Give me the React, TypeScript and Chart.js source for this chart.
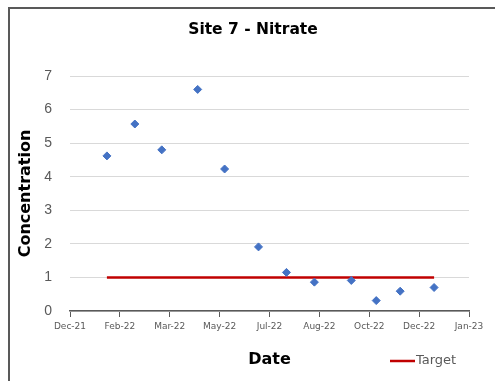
import React, { useEffect, useRef } from 'react';
import { Chart, registerables } from 'chart.js';

Chart.register(...registerables);

// ---- Data ----
const sampleDates = [
  '2022-01-26', '2022-02-23', '2022-03-22', '2022-04-27', '2022-05-24', '2022-06-27',
  '2022-07-25', '2022-08-22', '2022-09-28', '2022-10-23', '2022-11-16', '2022-12-20',
];
const nitrateValues = [4.62, 5.57, 4.8, 6.6, 4.23, 1.91, 1.15, 0.86, 0.91, 0.31, 0.59, 0.7];
const targetDates = ['2022-01-26', '2022-12-20'];
const targetValues = [1, 1];

// Excel-style date serial axis bounds
const xMin = 44550; // Dec-21
const xMax = 44950; // Jan-23
const xStep = 50;
const yMin = 0;
const yMax = 7;
const yStep = 1;

const MONTHS = ['Jan', 'Feb', 'Mar', 'Apr', 'May', 'Jun', 'Jul', 'Aug', 'Sep', 'Oct', 'Nov', 'Dec'];

function toSerial(s: string): number {
  const [y, m, d] = s.split('-').map(Number);
  return Date.UTC(y, m - 1, d) / 86400000 + 25569;
}
function fmtSerial(serial: number): string {
  const dt = new Date((serial - 25569) * 86400000);
  return MONTHS[dt.getUTCMonth()] + '-' + String(dt.getUTCFullYear() % 100).padStart(2, '0');
}

const framePlugin = {
  id: 'frame',
  afterDraw(chart: any) {
    const ctx = chart.ctx;
    ctx.save();
    ctx.fillStyle = '#595959';
    ctx.fillRect(8, 7, chart.width - 8, 2);
    ctx.fillRect(8, 7, 2, chart.height - 7);
    ctx.restore();
  },
};

const sideLegendPlugin = {
  id: 'sideLegend',
  afterDraw(chart: any) {
    const ds = chart.data.datasets.find((d: any) => d.label === 'Target');
    if (!ds) return;
    const ctx = chart.ctx;
    const area = chart.chartArea;
    const y = chart.height - 20;
    const x0 = area.right - 79;
    ctx.save();
    ctx.strokeStyle = ds.borderColor;
    ctx.lineWidth = 2.5;
    ctx.beginPath();
    ctx.moveTo(x0, y);
    ctx.lineTo(x0 + 25, y);
    ctx.stroke();
    ctx.fillStyle = '#595959';
    ctx.font = '13px "DejaVu Sans"';
    ctx.textBaseline = 'middle';
    ctx.textAlign = 'left';
    ctx.fillText(ds.label, x0 + 26, y);
    ctx.restore();
  },
};

export default function App() {
  const ref = useRef<HTMLCanvasElement | null>(null);

  useEffect(() => {
    if (!ref.current) return;
    const nitrate = sampleDates.map((d, i) => ({ x: toSerial(d), y: nitrateValues[i] }));
    const target = targetDates.map((d, i) => ({ x: toSerial(d), y: targetValues[i] }));

    const chart = new Chart(ref.current, {
      type: 'scatter',
      data: {
        datasets: [
          {
            label: 'Nitrate',
            data: nitrate,
            pointStyle: 'rectRot',
            pointRadius: 4,
            pointHoverRadius: 4,
            backgroundColor: '#4472C4',
            borderColor: '#4472C4',
            borderWidth: 1,
            showLine: false,
            order: 0,
          },
          {
            label: 'Target',
            data: target,
            showLine: true,
            borderColor: '#C00000',
            backgroundColor: '#C00000',
            borderWidth: 2.5,
            pointRadius: 0,
            pointHoverRadius: 0,
            order: 1,
          },
        ],
      },
      options: {
        responsive: false,
        animation: false,
        devicePixelRatio: 1,
        layout: { padding: { left: 16, top: 10, right: 5, bottom: 6 } },
        plugins: {
          legend: { display: false },
          tooltip: { enabled: false },
          title: {
            display: true,
            text: 'Site 7 - Nitrate',
            color: '#000000',
            font: { family: '"DejaVu Sans"', size: 15.5, weight: 'bold' },
            padding: { top: 10.7, bottom: 36.7 },
          },
        },
        scales: {
          x: {
            type: 'linear',
            min: xMin,
            max: xMax,
            ticks: {
              stepSize: xStep,
              autoSkip: false,
              maxRotation: 0,
              minRotation: 0,
              padding: 4,
              color: '#595959',
              font: { family: '"DejaVu Sans"', size: 9 },
              callback: (v: any) => fmtSerial(Number(v)),
            },
            grid: {
              drawOnChartArea: false,
              drawTicks: true,
              tickLength: 6,
              color: '#595959',
              lineWidth: 1,
            },
            border: { display: true, color: '#595959', width: 1.5 },
            title: {
              display: true,
              text: 'Date',
              color: '#000000',
              font: { family: '"DejaVu Sans"', size: 16, weight: 'bold' },
              padding: { top: 0, bottom: 6 },
            },
            afterFit: (scale: any) => {
              scale.height = 64;
              scale.paddingRight = 26;
            },
          },
          y: {
            min: yMin,
            max: yMax,
            ticks: {
              stepSize: yStep,
              padding: 18,
              color: '#595959',
              font: { family: '"Liberation Sans"', size: 14 },
            },
            grid: { color: '#d9d9d9', lineWidth: 1, drawTicks: false },
            border: { display: false },
            title: {
              display: true,
              text: 'Concentration',
              color: '#000000',
              font: { family: '"DejaVu Sans"', size: 16, weight: 'bold' },
              padding: { top: 0, bottom: 0 },
            },
            afterFit: (scale: any) => {
              scale.width = 54;
            },
          },
        },
      },
      plugins: [framePlugin, sideLegendPlugin],
    });
    return () => chart.destroy();
  }, []);

  return (
    <div style={{ position: 'fixed', left: 0, top: 0, width: 495, height: 381, background: '#ffffff' }}>
      <canvas ref={ref} width={495} height={381} style={{ width: 495, height: 381, display: 'block' }} />
    </div>
  );
}
